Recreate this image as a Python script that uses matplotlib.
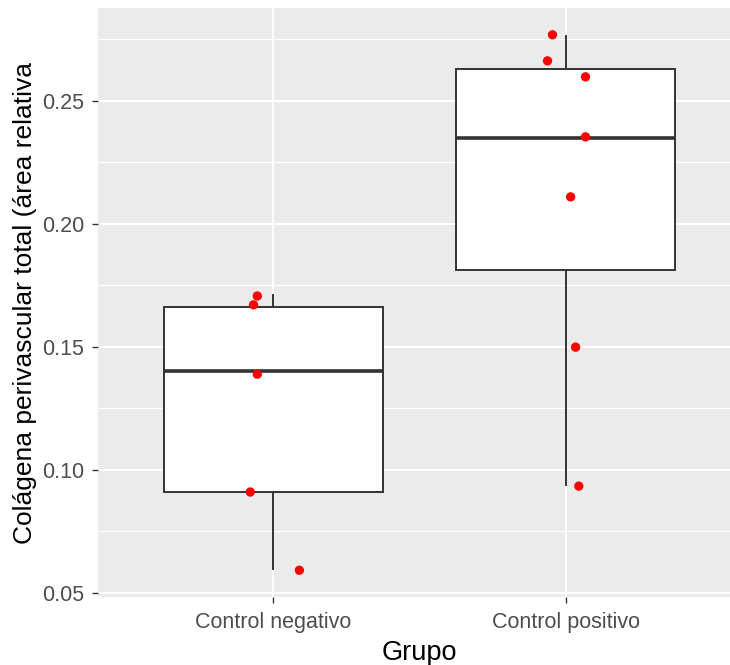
import numpy as np
import matplotlib
matplotlib.use("Agg")
import matplotlib.pyplot as plt
from matplotlib.ticker import MultipleLocator, FixedLocator

categories = ["Control negativo", "Control positivo"]
neg_values = [0.1706, 0.1670, 0.1388, 0.0909, 0.0591]
neg_jitter = [-0.055, -0.068, -0.055, -0.079, 0.089]
pos_values = [0.2768, 0.2662, 0.2597, 0.2353, 0.2109, 0.1498, 0.0933]
pos_jitter = [-0.045, -0.062, 0.068, 0.068, 0.017, 0.034, 0.045]
# box statistics as drawn (whisker low, Q1, median, Q3, whisker high)
neg_box = [0.0595, 0.0911, 0.1400, 0.1661, 0.1710]
pos_box = [0.0937, 0.1811, 0.2350, 0.2627, 0.2764]
y_ticks = [0.05, 0.10, 0.15, 0.20, 0.25]
y_tick_labels = ["0.05", "0.10", "0.15", "0.20", "0.25"]
x_title = "Grupo"
y_title = "Colágena perivascular total (área relativa"

plt.rcParams['font.family'] = ['Liberation Sans', 'DejaVu Sans']

fig = plt.figure(figsize=(7.30, 6.65), dpi=100)
ax = fig.add_axes([98/730, (665-597)/665, (741-98)/730, 589/665])
ax.set_facecolor('#EBEBEB')
for s in ax.spines.values():
    s.set_visible(False)

groups = [neg_values, pos_values]
jitters = [neg_jitter, pos_jitter]
boxes = [neg_box, pos_box]
positions = [1, 2]

stats = []
for lab, b in zip(categories, boxes):
    stats.append(dict(label=lab, whislo=b[0], q1=b[1], med=b[2], q3=b[3],
                      whishi=b[4], fliers=[]))

ax.bxp(stats, positions=positions, widths=0.75,
       patch_artist=True, showfliers=False, showcaps=False,
       boxprops=dict(facecolor='white', edgecolor='#333333', linewidth=1.4),
       whiskerprops=dict(color='#333333', linewidth=1.4),
       medianprops=dict(color='#333333', linewidth=2.6),
       zorder=2)

for pos, vals, jit in zip(positions, groups, jitters):
    xs = [pos + j for j in jit]
    ax.scatter(xs, vals, s=45, color='#FF0000', edgecolors='none', zorder=3)

allv = np.concatenate([neg_values, pos_values])
rng = allv.max() - allv.min()
ax.set_ylim(allv.min() - 0.05 * rng, allv.max() + 0.05 * rng)
ax.set_xlim(0.4, 2.6)

ax.yaxis.set_major_locator(FixedLocator(y_ticks))
ax.set_yticklabels(y_tick_labels)
ax.yaxis.set_minor_locator(MultipleLocator(0.025))
ax.set_xticks(positions)
ax.set_xticklabels(categories)
ax.xaxis.set_minor_locator(FixedLocator([]))

ax.grid(which='major', color='white', linewidth=1.5, zorder=0)
ax.grid(which='minor', axis='y', color='white', linewidth=0.8, zorder=0)
ax.set_axisbelow(True)

ax.tick_params(axis='both', which='major', colors='#333333', length=4.3,
               width=1.0, labelsize=15.5, labelcolor='#4D4D4D')
ax.tick_params(axis='y', which='major', pad=5.5)
ax.tick_params(axis='x', which='major', pad=6.5)
ax.tick_params(which='minor', length=0)

ax.set_xlabel(x_title, fontsize=19.5, color='black', labelpad=5)
ax.set_ylabel(y_title, fontsize=19.0, color='black', labelpad=4)

fig.savefig("out.png", dpi=100)
